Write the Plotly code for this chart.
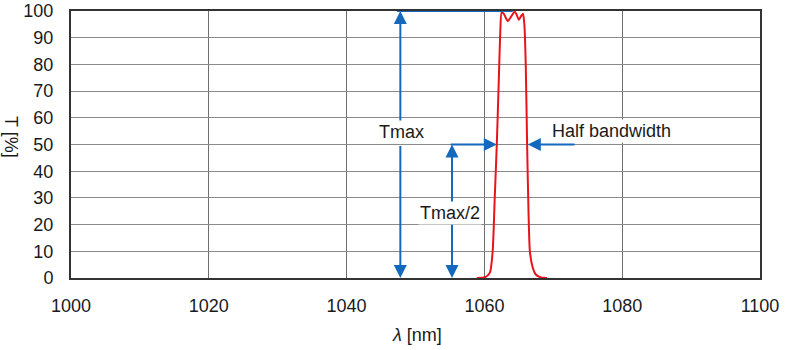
import plotly.graph_objects as go

# Transmission curve
wavelength_nm = [1058.9, 1060.1, 1060.8, 1061.2, 1061.5, 1061.8, 1062.1, 1062.3, 1062.5,
                 1062.8, 1063.1, 1063.4, 1063.9, 1064.4, 1064.7, 1065.0, 1065.3, 1065.6,
                 1065.8, 1066.0, 1066.2, 1066.4, 1066.6, 1067.0, 1067.4, 1068.1, 1069.1]
transmittance = [0, 0.3, 2, 10, 30, 50, 75, 92, 99.5,
                 99, 97.5, 96.2, 98, 99.8, 98.5, 96.7, 98, 99,
                 95, 80, 50, 25, 10, 4, 1.5, 0.3, 0]

x_ticks = [1000, 1020, 1040, 1060, 1080, 1100]
y_ticks = [0, 10, 20, 30, 40, 50, 60, 70, 80, 90, 100]

# Annotation anchors (data units)
tmax_x = 1047.8
tmax_line_x = [1047.3, 1064.1]
tmax_value = 100
half_value = 50
half_x = 1055.3
half_arrow_left = [1054.9, 1061.8]
half_arrow_right = [1073.3, 1066.3]
label_tmax = ("Tmax", 1047.9, 54.7)
label_half = ("Tmax/2", 1055.0, 24.3)
label_bw = ("Half bandwidth", 1078.4, 54.9)

BLUE = "#1469bd"
RED = "#e8141c"
FONT = "Arial, Liberation Sans, sans-serif"
TXT = "#1a1a1a"

fig = go.Figure()
fig.add_trace(go.Scatter(x=wavelength_nm, y=transmittance, mode="lines",
                         line=dict(color=RED, width=2, shape="spline", smoothing=0.6),
                         showlegend=False, hoverinfo="skip"))

def arrow(tip_x, tip_y, tail_x, tail_y):
    return dict(x=tip_x, y=tip_y, ax=tail_x, ay=tail_y, xref="x", yref="y",
                axref="x", ayref="y", showarrow=True, arrowhead=2, arrowsize=1.3,
                arrowwidth=2, arrowcolor=BLUE, text="", standoff=0, startstandoff=0)

mid_t = tmax_value / 2
annotations = [
    arrow(tmax_x, tmax_value, tmax_x, mid_t),
    arrow(tmax_x, 0, tmax_x, mid_t),
    arrow(half_x, half_value, half_x, half_value / 2),
    arrow(half_x, 0, half_x, half_value / 2),
    arrow(half_arrow_left[1], half_value, half_arrow_left[0], half_value),
    arrow(half_arrow_right[1], half_value, half_arrow_right[0], half_value),
]
for txt, lx, ly in (label_tmax, label_half, label_bw):
    annotations.append(dict(x=lx, y=ly, xref="x", yref="y", text=txt, showarrow=False,
                            bgcolor="white", borderpad=1,
                            font=dict(family=FONT, size=18, color=TXT)))
annotations.append(dict(x=-0.087, y=0.528, xref="paper", yref="paper", text="T [%]",
                        textangle=90, showarrow=False, xanchor="center", yanchor="middle",
                        font=dict(family=FONT, size=18, color=TXT)))
annotations.append(dict(x=0.502, y=-0.213, xref="paper", yref="paper",
                        text="<i>λ</i> [nm]", showarrow=False, xanchor="center",
                        yanchor="middle", font=dict(family=FONT, size=18, color=TXT)))

fig.update_layout(
    width=785, height=350,
    margin=dict(l=71, r=25, t=11, b=72),
    plot_bgcolor="white", paper_bgcolor="white",
    annotations=annotations,
    shapes=[dict(type="line", xref="x", yref="y", x0=tmax_line_x[0], x1=tmax_line_x[1],
                 y0=tmax_value, y1=tmax_value, line=dict(color=BLUE, width=2),
                 layer="above")],
    font=dict(family=FONT, size=18, color=TXT),
    xaxis=dict(range=[1000, 1100], tickvals=x_ticks, showgrid=True, gridcolor="#6e6e6e",
               gridwidth=1, showline=True, linecolor="#333", linewidth=2, mirror=True,
               ticks="", zeroline=False, ticklabelstandoff=10, automargin=False,
               tickfont=dict(family=FONT, size=18, color=TXT)),
    yaxis=dict(range=[0, 100], tickvals=y_ticks, showgrid=True, gridcolor="#8a8a8a",
               gridwidth=1, showline=True, linecolor="#333", linewidth=2, mirror=True,
               ticks="", zeroline=False, ticklabelstandoff=12, automargin=False,
               tickfont=dict(family=FONT, size=18, color=TXT)),
)

fig.write_html("out.html")
